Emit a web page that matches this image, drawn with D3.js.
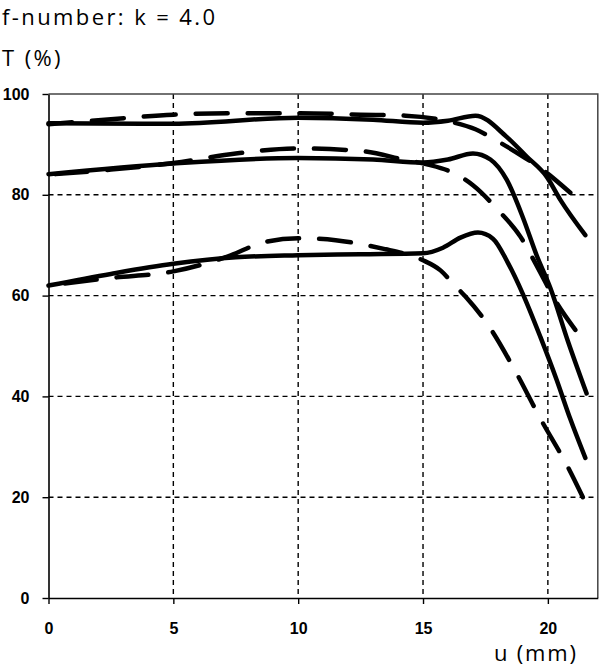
<!DOCTYPE html>
<html>
<head>
<meta charset="utf-8">
<script src="https://cdn.jsdelivr.net/npm/d3@7"></script>
<style>
  body { margin: 0; background: #fff; }
  svg { display: block; }
</style>
</head>
<body>
<div id="chart"></div>
<script>
// Data (u in mm, T in %)
const xTicks = [0, 5, 10, 15, 20];
const yTicks = [0, 20, 40, 60, 80, 100];

const highSolidU = [0, 5, 10, 13, 15, 16, 17.1, 18.35, 19.15, 19.95, 20.5, 21.5];
const highSolidT = [94.2, 94.1, 95.3, 94.9, 94.3, 94.7, 95.7, 91.5, 87.6, 83.6, 79, 72];

const highDashU = [0, 2.5, 5, 7.5, 10, 12.5, 14.3, 16, 17.1, 18, 19, 19.7, 20.9];
const highDashT = [94, 95, 95.9, 96.2, 96.2, 95.9, 95.7, 94.6, 93, 90.6, 87.6, 85.3, 80.4];

const midSolidU = [0, 5, 10, 13, 15, 16, 17, 17.7, 18.35, 19, 19.55, 20.1, 20.8, 21.55];
const midSolidT = [84.1, 86.2, 87.3, 87, 86.4, 87, 88.2, 87, 83, 75.5, 68, 61.5, 51, 40.6];

const midDashU = [0, 2.5, 5, 7.5, 10, 12.5, 14.3, 15.2, 16.4, 17, 18, 18.9, 19.6, 20.3, 21.1];
const midDashT = [84, 85, 86.3, 88.2, 89.2, 88.7, 86.9, 86, 83.9, 81.9, 77, 71.7, 65.5, 59, 53.2];

const lowSolidU = [0, 2.5, 5, 7.5, 10, 12.5, 15, 15.8, 16.5, 17.2, 17.8, 18.4, 19, 19.7, 20.35, 20.9, 21.5];
const lowSolidT = [62, 64.3, 66.3, 67.6, 68, 68.2, 68.4, 69.5, 71.5, 72.5, 71.3, 66.5, 60.3, 51.8, 43.3, 35.5, 27.8];

const lowDashU = [0, 2.5, 5, 7.3, 8.5, 10, 11.5, 13.5, 14.2, 15, 15.7, 16.2, 16.7, 17.6, 18.7, 19.7, 20.8, 21.4];
const lowDashT = [62, 63.5, 64.8, 68, 70.4, 71.4, 71, 69.2, 68.4, 67, 65, 62.4, 59.8, 54.2, 45, 35.6, 26, 20];

const curves = [
  { u: highSolidU, t: highSolidT, dashed: false },
  { u: highDashU, t: highDashT, dashed: true },
  { u: midSolidU, t: midSolidT, dashed: false },
  { u: midDashU, t: midDashT, dashed: true },
  { u: lowSolidU, t: lowSolidT, dashed: false },
  { u: lowDashU, t: lowDashT, dashed: true }
];

// Layout
const W = 600, H = 668;
const plot = { left: 48.5, top: 94, right: 597.8, bottom: 598 };

const svg = d3.select('#chart')
    .append('svg')
    .attr('width', W)
    .attr('height', H);

const x = d3.scaleLinear().domain([0, 22]).range([plot.left, plot.right]);
const y = d3.scaleLinear().domain([0, 100]).range([plot.bottom, plot.top]);

// Grid lines (dashed)
svg.selectAll('.vgrid')
    .data(xTicks.filter(d => d > 0))
    .join('line')
    .attr('class', 'vgrid')
    .attr('x1', d => x(d)).attr('x2', d => x(d))
    .attr('y1', plot.top).attr('y2', plot.bottom)
    .attr('stroke', '#000')
    .attr('stroke-width', 1.4)
    .attr('stroke-dasharray', '5,4');

svg.selectAll('.hgrid')
    .data(yTicks.filter(d => d > 0 && d < 100))
    .join('line')
    .attr('class', 'hgrid')
    .attr('x1', plot.left).attr('x2', plot.right)
    .attr('y1', d => y(d)).attr('y2', d => y(d))
    .attr('stroke', '#000')
    .attr('stroke-width', 1.4)
    .attr('stroke-dasharray', '5,4');

// Top and right frame
svg.append('path')
    .attr('d', `M${plot.left},${plot.top}H${plot.right}V${plot.bottom}`)
    .attr('fill', 'none')
    .attr('stroke', '#444')
    .attr('stroke-width', 1.5);

// Axes
const xAxis = svg.append('g')
    .attr('transform', `translate(0,${plot.bottom})`)
    .call(d3.axisBottom(x).tickValues(xTicks).tickSize(6).tickPadding(19).tickSizeOuter(0));

const yAxis = svg.append('g')
    .attr('transform', `translate(${plot.left},0)`)
    .call(d3.axisLeft(y).tickValues(yTicks).tickSize(6).tickPadding(13).tickSizeOuter(0));

[xAxis, yAxis].forEach(a => {
  a.select('.domain').attr('stroke', '#000').attr('stroke-width', 1.6);
  a.selectAll('.tick line').attr('stroke', '#000').attr('stroke-width', 1.4);
  a.selectAll('.tick text')
      .attr('fill', '#000')
      .style('font-family', '"Liberation Sans", Arial, sans-serif')
      .style('font-weight', 'bold')
      .style('font-size', '16px');
});

// Curves
const line = d3.line()
    .x(d => x(d[0]))
    .y(d => y(d[1]))
    .curve(d3.curveMonotoneX);

const dashLen = 32, gapLen = 20;

svg.selectAll('.curve')
    .data(curves)
    .join('path')
    .attr('class', 'curve')
    .attr('d', c => line(c.u.map((u, i) => [u, c.t[i]])))
    .attr('fill', 'none')
    .attr('stroke', '#000')
    .attr('stroke-width', 4.5)
    .attr('stroke-linecap', 'round')
    .attr('stroke-linejoin', 'round')
    .attr('stroke-dasharray', c => c.dashed ? `${dashLen},${gapLen}` : null)
    .attr('stroke-dashoffset', function (c) {
      if (!c.dashed) return null;
      // make the dash pattern end on a full dash
      const L = this.getTotalLength();
      return dashLen - (L % (dashLen + gapLen));
    });

// Titles
const labelFont = '"Open Sans", "Noto Sans", sans-serif';

svg.append('text')
    .attr('x', 2).attr('y', 25)
    .style('font-family', labelFont)
    .style('font-size', '22px')
    .style('letter-spacing', '2.4px')
    .attr('fill', '#000')
    .text('f-number: k = 4.0');

svg.append('text')
    .attr('x', 2).attr('y', 66)
    .style('font-family', labelFont)
    .style('font-size', '22px')
    .style('letter-spacing', '2.4px')
    .attr('fill', '#000')
    .text('T (%)');

svg.append('text')
    .attr('x', 494).attr('y', 661)
    .style('font-family', labelFont)
    .style('font-size', '22px')
    .style('letter-spacing', '1.8px')
    .attr('fill', '#000')
    .text('u (mm)');
</script>
</body>
</html>
